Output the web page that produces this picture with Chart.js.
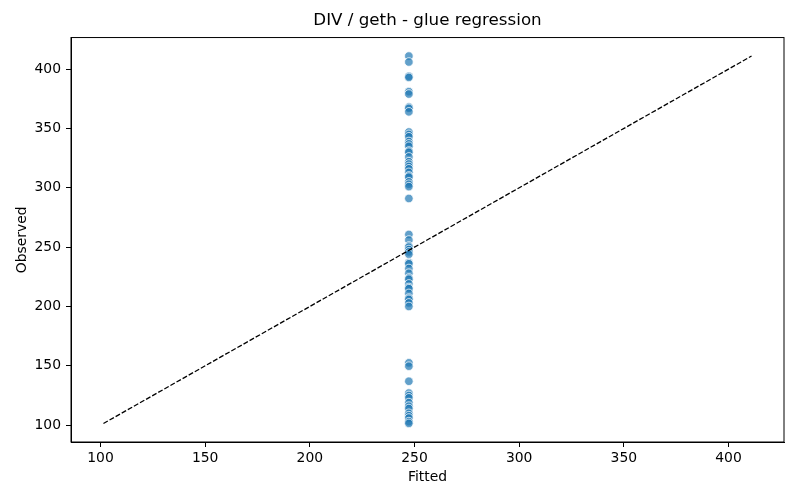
<!DOCTYPE html>
<html>
<head>
<meta charset="utf-8">
<script src="https://cdn.jsdelivr.net/npm/chart.js@4.4.0/dist/chart.umd.min.js"></script>
<style>
  html, body { margin: 0; padding: 0; background: #fff; }
  #wrap { width: 800px; height: 500px; }
</style>
</head>
<body>
<div id="wrap"><canvas id="chart" width="800" height="500"></canvas></div>
<script>
// Data
const fittedValue = 247.3;
const observed = [
  411, 406, 394, 393, 381, 379, 368, 367, 364,
  347, 345, 343, 339, 337, 335, 331, 330, 326, 322, 320, 318, 316,
  313, 310, 309, 305, 303, 301, 291,
  260.7, 256, 251, 250, 248, 246, 244, 237, 236, 232, 228, 224, 223,
  219, 216, 215, 211, 207, 206, 203, 200,
  152.5, 149.7, 137, 127, 125, 123, 119, 116, 114, 110, 108, 106, 103, 101.5
];
const lineX = [101.4, 411];
const lineY = [101.4, 411];
const tickValues = [100, 150, 200, 250, 300, 350, 400];

const font = "'DejaVu Sans', sans-serif";
Chart.defaults.font.family = font;
Chart.defaults.color = '#000';

// top and right spines, like a matplotlib frame
const framePlugin = {
  id: 'frame',
  afterDatasetsDraw(chart) {
    const { ctx, chartArea: a } = chart;
    ctx.save();
    ctx.strokeStyle = '#000';
    ctx.lineWidth = 1;
    ctx.strokeRect(a.left, a.top, a.right - a.left, a.bottom - a.top);
    ctx.restore();
  }
};

const fixedTicks = scale => {
  scale.ticks = tickValues.map(v => ({ value: v }));
};

new Chart(document.getElementById('chart'), {
  type: 'scatter',
  data: {
    datasets: [
      {
        label: 'points',
        data: observed.map(y => ({ x: fittedValue, y: y })),
        backgroundColor: 'rgba(31, 119, 180, 0.7)',
        borderColor: '#ffffff',
        borderWidth: 0.75,
        pointRadius: 4.3,
        pointHoverRadius: 4.3,
        order: 1
      },
      {
        label: 'identity',
        data: lineX.map((x, i) => ({ x: x, y: lineY[i] })),
        showLine: true,
        borderColor: '#000',
        borderWidth: 1.3,
        borderDash: [5, 2],
        pointRadius: 0,
        fill: false,
        order: 0
      }
    ]
  },
  options: {
    responsive: false,
    animation: false,
    layout: { padding: { left: 0, right: 16, top: 0, bottom: 0 } },
    plugins: {
      legend: { display: false },
      tooltip: { enabled: false },
      title: {
        display: true,
        fullSize: false,
        text: 'DIV / geth - glue regression',
        font: { size: 16.7, weight: 'normal', family: font },
        color: '#000',
        padding: { top: 11, bottom: 6.5 }
      }
    },
    scales: {
      x: {
        type: 'linear',
        min: 85.9,
        max: 426.5,
        afterBuildTicks: fixedTicks,
        afterFit: s => { s.height = 58; },
        ticks: { font: { size: 13.9 }, padding: 3, color: '#000', maxRotation: 0 },
        grid: { drawOnChartArea: false, drawTicks: true, tickLength: 5, tickColor: '#000' },
        border: { display: true, color: '#000', width: 1 },
        title: {
          display: true,
          text: 'Fitted',
          font: { size: 13.9 },
          color: '#000',
          padding: { top: 0, bottom: 14.6 }
        }
      },
      y: {
        type: 'linear',
        min: 85.8,
        max: 426.6,
        afterBuildTicks: fixedTicks,
        afterFit: s => { s.width = 71; },
        ticks: { font: { size: 13.9 }, padding: 5, color: '#000' },
        grid: { drawOnChartArea: false, drawTicks: true, tickLength: 5, tickColor: '#000' },
        border: { display: true, color: '#000', width: 1 },
        title: {
          display: true,
          text: 'Observed',
          font: { size: 13.9 },
          color: '#000',
          padding: { top: 13.6, bottom: 0 }
        }
      }
    }
  },
  plugins: [framePlugin]
});
</script>
</body>
</html>
